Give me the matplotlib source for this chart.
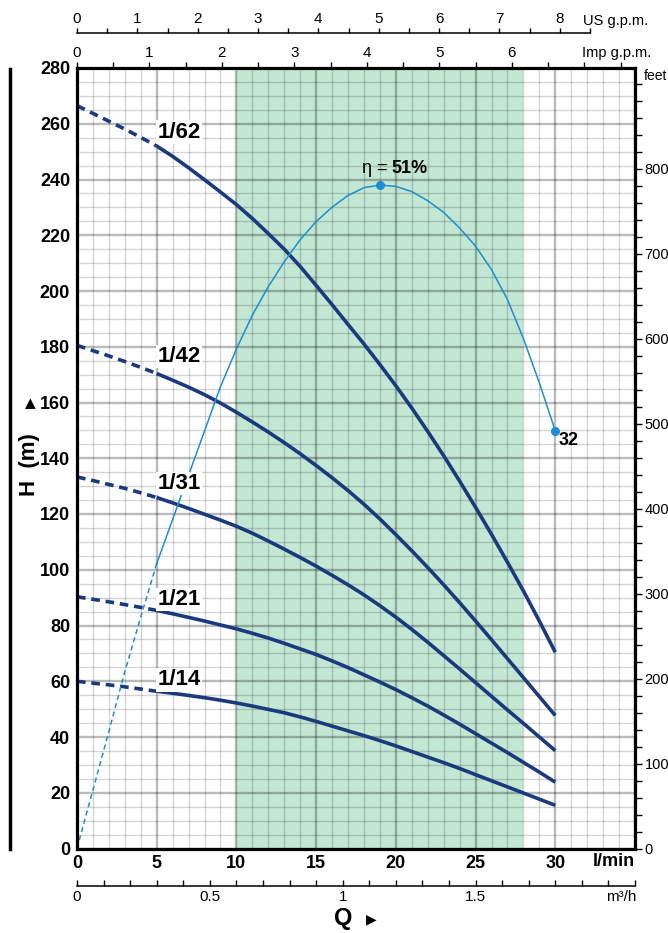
import matplotlib
matplotlib.use('Agg')
import matplotlib.pyplot as plt
from matplotlib.ticker import MultipleLocator, FixedLocator, FuncFormatter
from matplotlib.lines import Line2D

plt.rcParams['font.family'] = ['Liberation Sans', 'DejaVu Sans']

# ---------------- data ----------------
flow = list(range(0, 31))   # l/min
head_1_62 = [266.5, 263.7, 260.9, 258.1, 255.1, 252.0, 248.3, 244.2, 239.9, 235.5, 231.0,
             226.0, 220.6, 215.0, 208.8, 202.0, 195.1, 188.0, 181.0, 173.6, 166.0,
             158.0, 149.6, 140.9, 131.8, 122.4, 112.7, 102.7, 92.4, 81.6, 70.4]
head_1_42 = [180.5, 178.6, 176.7, 174.7, 172.6, 170.4, 168.0, 165.5, 162.8, 159.8, 156.5,
             153.0, 149.4, 145.6, 141.6, 137.4, 133.0, 128.4, 123.5, 118.2, 112.6,
             106.8, 100.8, 94.6, 88.2, 81.6, 74.9, 68.1, 61.3, 54.5, 47.7]
head_1_31 = [133.3, 132.0, 130.6, 129.2, 127.6, 125.9, 124.0, 122.0, 119.9, 117.8, 115.6,
             113.1, 110.3, 107.4, 104.4, 101.3, 98.0, 94.6, 91.0, 87.1, 83.0,
             78.6, 74.0, 69.2, 64.4, 59.5, 54.6, 49.7, 44.9, 40.0, 35.1]
head_1_21 = [90.3, 89.4, 88.5, 87.5, 86.5, 85.4, 84.2, 82.9, 81.6, 80.2, 78.8,
             77.2, 75.5, 73.6, 71.6, 69.6, 67.3, 64.9, 62.3, 59.7, 57.0,
             54.1, 51.1, 47.9, 44.6, 41.2, 37.8, 34.4, 30.9, 27.4, 23.8]
head_1_14 = [60.0, 59.3, 58.7, 58.0, 57.2, 56.4, 55.7, 54.9, 54.1, 53.2, 52.2,
             51.1, 49.9, 48.7, 47.2, 45.6, 43.9, 42.2, 40.5, 38.7, 36.8,
             34.8, 32.8, 30.8, 28.7, 26.5, 24.3, 22.1, 19.9, 17.7, 15.5]
models = ['1/62', '1/42', '1/31', '1/21', '1/14']
heads = [head_1_62, head_1_42, head_1_31, head_1_21, head_1_14]
label_heads = [257, 176.5, 131, 89.3, 60.5]

eff_flow = list(range(0, 31))
eff_pct = [0, 4.5, 9.0, 13.6, 17.8, 21.9, 25.3, 28.7, 32.1, 35.5, 38.4, 41.0, 43.2,
           45.1, 46.8, 48.2, 49.3, 50.2, 50.8, 51.0, 50.9, 50.5, 49.8, 48.9, 47.7,
           46.3, 44.5, 42.2, 39.2, 35.8, 32.1]
eff_scale = 280 / 60.0   # % -> m on the chart

best_range = (10, 28)
dash_end = 5

x_major = list(range(0, 36, 5))
y_major = list(range(0, 281, 20))
feet_major = list(range(0, 801, 100))
us_major = list(range(0, 9))
imp_major = list(range(0, 7))
m3_labels = [0, 0.5, 1, 1.5]

LPM_PER_US = 3.785
LPM_PER_IMP = 4.546
LPM_PER_M3H = 1000 / 60.0
FT_PER_M = 3.2808

# ---------------- figure ----------------
W, Hh = 668, 933
fig = plt.figure(figsize=(W / 100, Hh / 100), dpi=100)

def fx(px):
    return px / W

def fy(py):
    return 1 - py / Hh

L, R, T, B = 77, 635, 68, 848.5
ax = fig.add_axes([fx(L), fy(B), (R - L) / W, (B - T) / Hh])
ax.set_xlim(0, 35)
ax.set_ylim(0, 280)
ax.set_axisbelow(True)

navy = '#1b3a7e'
sky = '#1b8fd2'

ax.axvspan(best_range[0], best_range[1], color='#c2e7d3', lw=0, zorder=0.2)

ax.xaxis.set_major_locator(FixedLocator(x_major))
ax.xaxis.set_minor_locator(MultipleLocator(1))
ax.yaxis.set_major_locator(FixedLocator(y_major))
ax.yaxis.set_minor_locator(MultipleLocator(5))
ax.grid(which='minor', color='black', alpha=0.17, lw=1.0)
ax.grid(which='major', color='black', alpha=0.27, lw=1.7)
ax.tick_params(which='both', length=0)
ax.tick_params(axis='x', pad=5, labelsize=13)
ax.tick_params(axis='y', pad=5, labelsize=13)
ax.xaxis.set_major_formatter(FuncFormatter(lambda v, p: '' if v > 30 else f'{int(v)}'))
for lab in ax.get_xticklabels() + ax.get_yticklabels():
    lab.set_fontweight('bold')
for s in ax.spines.values():
    s.set_linewidth(2.3)
    s.set_color('black')
    s.set_zorder(5)

# pump curves
i5 = flow.index(dash_end)
for name, h, ly in zip(models, heads, label_heads):
    ax.plot(flow[:i5 + 1], h[:i5 + 1], color=navy, lw=2.6, ls=(0, (2.4, 1.6)),
            solid_capstyle='butt', zorder=3)
    ax.plot(flow[i5:], h[i5:], color=navy, lw=2.6, solid_capstyle='butt', zorder=3)
    ax.text(5.05, ly, name, fontsize=16, fontweight='bold', ha='left', va='center',
            zorder=6, bbox=dict(facecolor='white', edgecolor='none', pad=1.0))

# efficiency curve
eff_h = [e * eff_scale for e in eff_pct]
j5 = eff_flow.index(dash_end)
ax.plot(eff_flow[:j5 + 1], eff_h[:j5 + 1], color=sky, lw=1.1, ls=(0, (3.3, 2.3)), zorder=4)
ax.plot(eff_flow[j5:], eff_h[j5:], color=sky, lw=1.1, zorder=4)
ipk = eff_pct.index(max(eff_pct))
ax.plot([eff_flow[ipk], eff_flow[-1]], [eff_h[ipk], eff_h[-1]], 'o', color=sky, ms=5.5, zorder=4)
ax.text(eff_flow[ipk] + 0.46, eff_h[ipk] + 6, 'η =', fontsize=13, ha='right', va='center', zorder=6)
ax.text(eff_flow[ipk] + 0.72, eff_h[ipk] + 6, f'{max(eff_pct):.0f}%', fontsize=13,
        fontweight='bold', ha='left', va='center', zorder=6)
ax.text(eff_flow[-1] + 0.2, eff_h[-1] - 3.5, f'{eff_pct[-1]:.0f}', fontsize=13,
        fontweight='bold', ha='left', va='center', zorder=6)

# right axis: feet
sec = ax.secondary_yaxis('right', functions=(lambda m: m * FT_PER_M, lambda f: f / FT_PER_M))
sec.yaxis.set_major_locator(FixedLocator(feet_major))
sec.yaxis.set_minor_locator(FixedLocator(list(range(0, 901, 20))))
sec.tick_params(which='both', direction='out', length=5, width=1, labelsize=10.5, pad=2)
sec.spines['right'].set_visible(False)
fig.text(fx(644), fy(76), 'feet', fontsize=10, ha='left', va='center')

# top axis: Imp g.p.m.
secx = ax.secondary_xaxis('top', functions=(lambda q: q / LPM_PER_IMP, lambda g: g * LPM_PER_IMP))
secx.xaxis.set_major_locator(FixedLocator([k * 0.5 for k in range(16)]))
secx.xaxis.set_major_formatter(FuncFormatter(
    lambda v, p: f'{int(round(v))}' if abs(v - round(v)) < 1e-6 and round(v) in imp_major else ''))
secx.tick_params(direction='out', length=4, width=1, labelsize=11, pad=2)
secx.spines['top'].set_visible(False)
fig.text(fx(582), fy(53), 'Imp g.p.m.', fontsize=10.5, ha='left', va='center')

# US g.p.m. axis
ax_us = fig.add_axes([fx(L), fy(33) - 0.001, (R - L) / W, 0.001])
ax_us.set_xlim(0, 35 / LPM_PER_US)
ax_us.patch.set_visible(False)
for k in ['left', 'right', 'bottom']:
    ax_us.spines[k].set_visible(False)
ax_us.spines['top'].set_bounds(0, 8.5)
ax_us.spines['top'].set_linewidth(1.1)
ax_us.set_yticks([])
ax_us.xaxis.set_ticks_position('top')
ax_us.xaxis.set_major_locator(FixedLocator(us_major))
ax_us.xaxis.set_minor_locator(FixedLocator([k * 0.5 + 0.5 for k in range(0, 17, 2)]))
ax_us.tick_params(which='both', direction='out', length=3.5, width=1, labelsize=11, pad=1.5)
fig.text(fx(583), fy(21), 'US g.p.m.', fontsize=10.5, ha='left', va='center')

# bottom m3/h axis
ax_m3 = fig.add_axes([fx(L), fy(886), (R - L) / W, 0.001])
ax_m3.set_xlim(0, 35 / LPM_PER_M3H)
ax_m3.patch.set_visible(False)
for k in ['left', 'right', 'top']:
    ax_m3.spines[k].set_visible(False)
ax_m3.spines['bottom'].set_bounds(0, 2.1)
ax_m3.spines['bottom'].set_linewidth(1.1)
ax_m3.set_yticks([])
ax_m3.xaxis.set_major_locator(FixedLocator([round(k * 0.1, 1) for k in range(22)]))
ax_m3.xaxis.set_major_formatter(FuncFormatter(
    lambda v, p: (f'{v:g}' if any(abs(v - m) < 1e-6 for m in m3_labels) else '')))
ax_m3.tick_params(direction='in', length=4.5, width=1, labelsize=11, pad=3)
fig.text(fx(636), fy(897), 'm³/h', fontsize=11, ha='right', va='center')

# axis titles and decorations
fig.text(fx(635), fy(862), 'l/min', fontsize=13, fontweight='bold', ha='right', va='center')
fig.text(fx(343), fy(919), 'Q', fontsize=17, fontweight='bold', ha='center', va='center')
fig.text(fx(371), fy(919), '▶', fontsize=10, ha='center', va='center', family=['DejaVu Sans'])
fig.text(fx(30), fy(465), 'H  (m)', fontsize=16, fontweight='bold', ha='center', va='center', rotation=90)
fig.text(fx(30), fy(403), '▶', fontsize=10, ha='center', va='center', rotation=90, family=['DejaVu Sans'])
fig.add_artist(Line2D([fx(10), fx(10)], [fy(69), fy(849)], lw=2.5, color='black'))

fig.savefig('out.png', dpi=100)
